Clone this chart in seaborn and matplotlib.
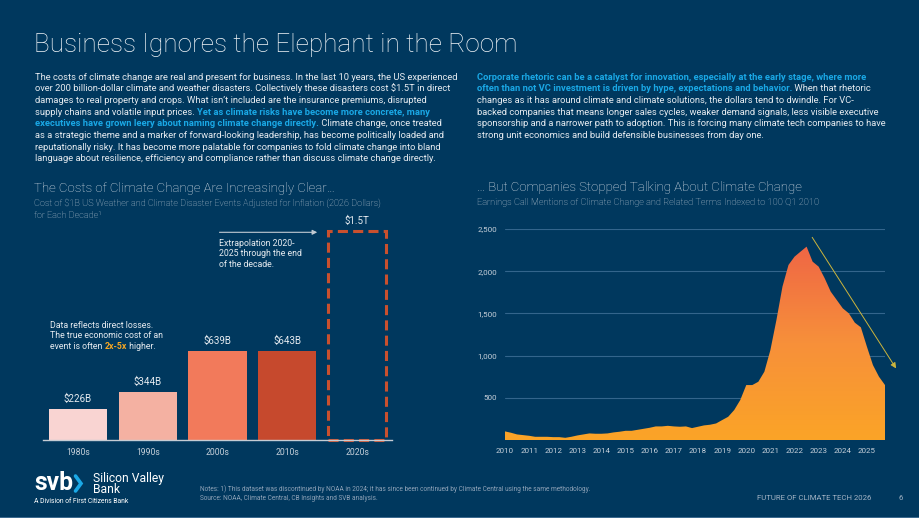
import matplotlib
matplotlib.use("Agg")
import numpy as np
import pandas as pd
import matplotlib.pyplot as plt
import seaborn as sns
from matplotlib.colors import LinearSegmentedColormap
from matplotlib.lines import Line2D
from matplotlib.patches import FancyArrowPatch

# ==============================================================================
# DADOS
# ==============================================================================
decadas = ["1980s", "1990s", "2000s", "2010s", "2020s"]
custos_bi = [226, 344, 639, 643, 1500]
rotulos_custos = ["$226B", "$344B", "$639B", "$643B", "$1.5T"]

trimestres = pd.period_range("2010Q1", "2025Q4", freq="Q")
mencoes = [102, 86, 66, 58, 50, 38, 38, 38, 34, 34, 26, 38, 54, 66, 78, 74,
           74, 78, 90, 98, 109, 109, 121, 133, 145, 161, 161, 168, 161, 157, 161, 141,
           157, 173, 181, 196, 236, 275, 355, 473, 651, 651, 690, 809, 1066, 1422, 1817, 2074,
           2172, 2232, 2291, 2113, 2054, 1916, 1758, 1659, 1560, 1501, 1390, 1335, 1106, 888, 750, 651]
anos_eixo = list(range(2010, 2026))
ticks_y = [500, 1000, 1500, 2000, 2500]

# ==============================================================================
# CONFIGURAÇÃO VISUAL
# ==============================================================================
LARG, ALT = 920, 518
FUNDO = "#00385E"
BRANCO = "#E6EBF0"
CIANO = "#1AA8E6"
CINZA = "#C5CFD9"
cores_barras = ["#F9D4D2", "#F4B1A2", "#F27A5B", "#C6492D", "#C9502E"]

sns.set_theme(style="dark", rc={"axes.facecolor": FUNDO, "figure.facecolor": FUNDO})
plt.rcParams["font.family"] = ["Roboto", "DejaVu Sans"]

fig = plt.figure(figsize=(LARG / 100, ALT / 100), dpi=100, facecolor=FUNDO)
renderer = fig.canvas.get_renderer()


def fx(x):
    return x / LARG


def fy(y):
    return 1 - y / ALT


def escrever(x, y, s, largura=None, **kw):
    # y = linha de base da última linha do texto (em pixels a partir do topo)
    kw.setdefault("va", "baseline")
    t = fig.text(fx(x), fy(y), s, **kw)
    if largura:
        w = t.get_window_extent(renderer).width
        t.set_fontsize(t.get_fontsize() * largura / w)
    return t


def linha_mista(x, y, partes, tamanho):
    cx = x
    for trecho, estilo in partes:
        t = fig.text(fx(cx), fy(y), trecho, fontsize=tamanho, va="baseline", **estilo)
        cx += t.get_window_extent(renderer).width


NORMAL = dict(color=BRANCO)
DESTAQUE = dict(color=CIANO, fontweight="bold")

# ==============================================================================
# TEXTOS DO TOPO
# ==============================================================================
escrever(34, 51.7, "Business Ignores the Elephant in the Room", largura=483,
         fontsize=20, fontweight="light", color="#F2F5F8")

t0 = escrever(35, 79.5, "The costs of climate change are real and present for business. "
              "In the last 10 years, the US experienced", largura=422, fontsize=6.5, color=BRANCO)
tam_corpo = t0.get_fontsize()
passo = 11.67

texto_esq = [
    [("over 200 billion-dollar climate and weather disasters. Collectively these disasters cost $1.5T in direct", NORMAL)],
    [("damages to real property and crops. What isn\u2019t included are the insurance premiums, disrupted", NORMAL)],
    [("supply chains and volatile input prices. ", NORMAL),
     ("Yet as climate risks have become more concrete, many", DESTAQUE)],
    [("executives have grown leery about naming climate change directly.", DESTAQUE),
     (" Climate change, once treated", NORMAL)],
    [("as a strategic theme and a marker of forward-looking leadership, has become politically loaded and", NORMAL)],
    [("reputationally risky. It has become more palatable for companies to fold climate change into bland", NORMAL)],
    [("language about resilience, efficiency and compliance rather than discuss climate change directly.", NORMAL)],
]
for i, partes in enumerate(texto_esq, start=1):
    linha_mista(35, 79.5 + passo * i, partes, tam_corpo)

texto_dir = [
    [("Corporate rhetoric can be a catalyst for innovation, especially at the early stage, where more", DESTAQUE)],
    [("often than not VC investment is driven by hype, expectations and behavior.", DESTAQUE),
     (" When that rhetoric", NORMAL)],
    [("changes as it has around climate and climate solutions, the dollars tend to dwindle. For VC-", NORMAL)],
    [("backed companies that means longer sales cycles, weaker demand signals, less visible executive", NORMAL)],
    [("sponsorship and a narrower path to adoption. This is forcing many climate tech companies to have", NORMAL)],
    [("strong unit economics and build defensible businesses from day one.", NORMAL)],
]
for i, partes in enumerate(texto_dir):
    linha_mista(477, 79.5 + passo * i, partes, tam_corpo)

# ==============================================================================
# GRÁFICO ESQUERDO: CUSTOS POR DÉCADA
# ==============================================================================
escrever(34, 191.7, "The Costs of Climate Change Are Increasingly Clear\u2026", largura=301,
         fontsize=10, fontweight="light", color="#DDE3EA")
t_sub = escrever(34, 206, "Cost of $1B US Weather and Climate Disaster Events Adjusted for Inflation (2026 Dollars)",
                 largura=350, fontsize=7, fontweight="light", color=CINZA)
escrever(34, 218, "for Each Decade\u00b9", fontsize=t_sub.get_fontsize(), fontweight="light", color=CINZA)

ax1 = fig.add_axes([fx(43), fy(440.3), (392 - 43) / LARG, (440.3 - 215) / ALT])
df_custos = pd.DataFrame({"Década": decadas, "Custo": custos_bi})
sns.barplot(data=df_custos, x="Década", y="Custo", hue="Década", palette=cores_barras,
            saturation=1, legend=False, width=0.835, linewidth=0, edgecolor="none", ax=ax1)

barra_2020 = ax1.patches[4]
barra_2020.set_facecolor("none")
barra_2020.set_edgecolor("#C9502E")
barra_2020.set_linewidth(2.2)
barra_2020.set_linestyle((0, (3.3, 1.7)))
barra_2020.set_clip_on(False)

for i, (valor, rotulo) in enumerate(zip(custos_bi, rotulos_custos)):
    ax1.annotate(rotulo, (i, valor), xytext=(0, 5), textcoords="offset points",
                 ha="center", va="baseline", fontsize=7, color=BRANCO)

ax1.set_xlim(-0.5, 4.5)
ax1.set_ylim(0, 1615)
ax1.set_xlabel("")
ax1.set_ylabel("")
ax1.set_yticks([])
ax1.tick_params(axis="x", length=0, pad=5.5, labelsize=6.2, labelcolor=CINZA)
for lado in ["top", "right", "left"]:
    ax1.spines[lado].set_visible(False)
ax1.spines["bottom"].set_visible(True)
ax1.spines["bottom"].set_color("#C5CCD4")
ax1.spines["bottom"].set_linewidth(1)

# anotações do gráfico esquerdo
fig.add_artist(FancyArrowPatch(
    (fx(216.7), fy(232.3)), (fx(320), fy(232.3)), transform=fig.transFigure,
    arrowstyle="-|>", mutation_scale=7, color="#C3CBD3", lw=0.8))
t_ext = escrever(219, 256.3, "2025 through the end", largura=84, fontsize=6, color=BRANCO)
escrever(219, 245.7, "Extrapolation 2020-", fontsize=t_ext.get_fontsize(), color=BRANCO)
escrever(219, 267, "of the decade.", fontsize=t_ext.get_fontsize(), color=BRANCO)

t_dados = escrever(50, 338.3, "The true economic cost of an", largura=116, fontsize=6, color=BRANCO)
tam_nota = t_dados.get_fontsize()
escrever(50, 328, "Data reflects direct losses.", fontsize=tam_nota, color=BRANCO)
linha_mista(50, 348.7, [("event is often ", NORMAL),
                        ("2x-5x", dict(color="#F5A623", fontweight="bold")),
                        (" higher.", NORMAL)], tam_nota)

# ==============================================================================
# GRÁFICO DIREITO: MENÇÕES EM EARNINGS CALLS
# ==============================================================================
escrever(477, 191.5, "\u2026 But Companies Stopped Talking About Climate Change", largura=325,
         fontsize=10, fontweight="light", color="#DDE3EA")
escrever(477, 205.5, "Earnings Call Mentions of Climate Change and Related Terms Indexed to 100 Q1 2010",
         largura=346, fontsize=7, fontweight="light", color=CINZA)

ax2 = fig.add_axes([fx(505), fy(440), 380 / LARG, (440 - 229) / ALT])
x_trim = np.array([p.year + (p.quarter - 1) / 4 for p in trimestres])

poligono = ax2.fill_between(x_trim, mencoes, 0, color="none", lw=0)
cmap = LinearSegmentedColormap.from_list("area", ["#FBA427", "#F7903A", "#EF6645"])
gradiente = np.linspace(0, 1, 256).reshape(-1, 1)
img = ax2.imshow(gradiente, cmap=cmap, origin="lower", aspect="auto", zorder=2,
                 extent=[x_trim.min(), x_trim.max(), 0, max(mencoes)])
img.set_clip_path(poligono.get_paths()[0], transform=ax2.transData)
ax2.axhline(0, color="#8C9DB0", lw=0.6, zorder=3)

ax2.annotate("", xy=(2026.27, 821), xytext=(2022.67, 2429),
             arrowprops=dict(arrowstyle="-|>", color="#CDB53C", lw=0.7, mutation_scale=8),
             annotation_clip=False)

ax2.set_xlim(x_trim.min(), x_trim.max())
ax2.set_ylim(0, 2500)
ax2.set_xticks(anos_eixo)
ax2.set_xticklabels([str(a) for a in anos_eixo])
ax2.set_yticks(ticks_y)
ax2.set_yticklabels([f"{v:,}" for v in ticks_y])
ax2.tick_params(axis="both", length=0, labelsize=5.8, labelcolor=CINZA)
ax2.tick_params(axis="y", pad=5.8)
ax2.tick_params(axis="x", pad=5.5)
ax2.set_axisbelow(True)
ax2.yaxis.grid(True, color="#33658C", lw=0.8)
ax2.xaxis.grid(False)
for lado in ax2.spines:
    ax2.spines[lado].set_visible(False)

# ==============================================================================
# RODAPÉ
# ==============================================================================
escrever(34, 490, "svb", largura=39.3, fontsize=14, fontweight="bold", color="white")
fig.add_artist(Line2D([fx(75.5), fx(81), fx(75.5)], [fy(476), fy(483.5), fy(491)],
                      transform=fig.transFigure, color=CIANO, lw=2.6,
                      solid_joinstyle="miter"))
escrever(92.7, 492.7, "Silicon Valley\nBank", largura=72.3, fontsize=9, color="white",
         linespacing=0.78)
escrever(34, 503, "A Division of First Citizens Bank", largura=95.7, fontsize=5.5, color="white")

t_nota = escrever(200, 491, "Notes: 1) This dataset was discontinued by NOAA in 2024; it has since been "
                  "continued by Climate Central using the same methodology.", largura=388,
                  fontsize=4.5, color="#8FA3B8")
escrever(200, 500.5, "Source: NOAA, Climate Central, CB Insights and SVB analysis.",
         fontsize=t_nota.get_fontsize(), color="#8FA3B8")
escrever(871, 500.5, "FUTURE OF CLIMATE TECH 2026", fontsize=5.6, color="#A3B3C4", ha="right")
escrever(901, 500.5, "6", fontsize=5.6, color="#A3B3C4", ha="center")
fig.add_artist(plt.Rectangle((0, 0), 1, 1.5 / ALT, transform=fig.transFigure,
                             color="#3C6A8F", lw=0))

fig.savefig("out.png", dpi=100, facecolor=FUNDO)
